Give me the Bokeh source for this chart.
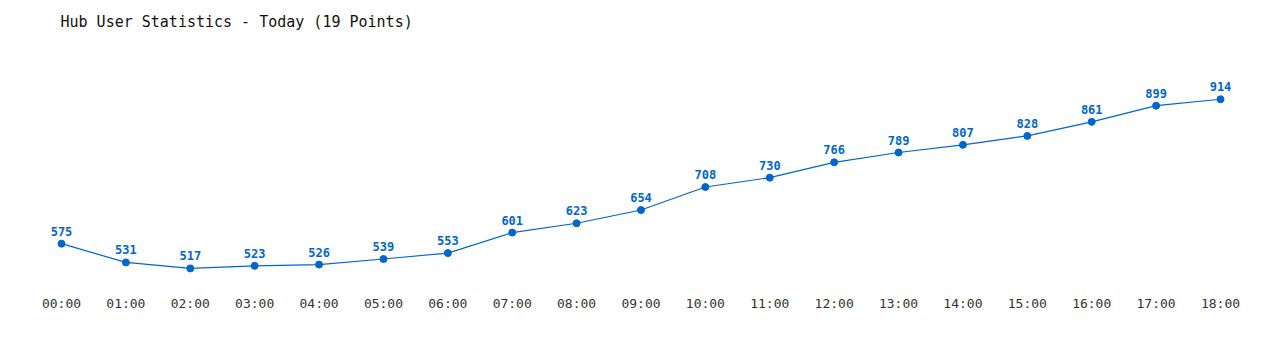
from bokeh.plotting import figure
from bokeh.models import ColumnDataSource, Range1d, FixedTicker
from bokeh.core.properties import value
from bokeh.embed import file_html
from bokeh.resources import INLINE

hours = ["00:00", "01:00", "02:00", "03:00", "04:00", "05:00", "06:00", "07:00", "08:00",
         "09:00", "10:00", "11:00", "12:00", "13:00", "14:00", "15:00", "16:00", "17:00", "18:00"]
users = [575, 531, 517, 523, 526, 539, 553, 601, 623, 654, 708, 730, 766, 789, 807, 828, 861, 899, 914]

xs = list(range(len(hours)))
src = ColumnDataSource(data=dict(x=xs, y=users, label=[str(u) for u in users]))

BLUE = "#0066cc"
MONO = "DejaVu Sans Mono"

p = figure(width=1280, height=350, output_backend="svg", toolbar_location=None,
           x_range=Range1d(-0.9474, 18.932), y_range=Range1d(465.1, 1049.6),
           min_border_left=0, min_border_right=0, min_border_top=40, min_border_bottom=60,
           title="Hub User Statistics - Today (19 Points)")
p.title.text_font = MONO
p.title.text_font_size = "15px"
p.title.text_font_style = "normal"
p.title.text_color = "#111111"
p.title.offset = 60
p.title.standoff = 21

p.outline_line_color = None
p.xgrid.grid_line_color = None
p.ygrid.grid_line_color = None
p.yaxis.visible = False

ax = p.xaxis[0]
ax.ticker = FixedTicker(ticks=xs)
ax.major_label_overrides = {i: h for i, h in enumerate(hours)}
ax.axis_line_color = None
ax.major_tick_line_color = None
ax.minor_tick_line_color = None
ax.major_tick_out = 0
ax.major_tick_in = 0
ax.major_label_text_font = MONO
ax.major_label_text_font_size = "13px"
ax.major_label_text_color = "#333333"
ax.major_label_standoff = 5

p.line("x", "y", source=src, line_color=BLUE, line_width=1.2)
p.scatter("x", "y", source=src, size=7, fill_color=BLUE, line_color=BLUE)
p.text("x", "y", text="label", source=src, text_align="center", text_baseline="bottom",
       y_offset=-8, text_font=value(MONO), text_font_size="12px", text_font_style="bold",
       text_color=BLUE)

open("out.html", "w").write(file_html(p, INLINE))
